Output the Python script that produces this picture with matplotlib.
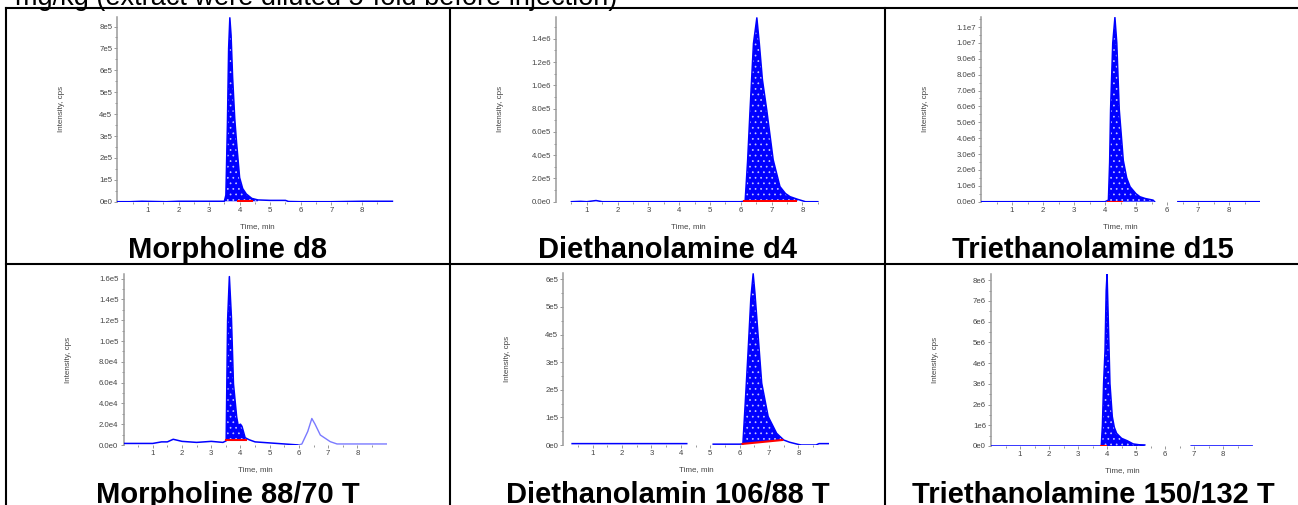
import numpy as np
import matplotlib
matplotlib.use('Agg')
import matplotlib.pyplot as plt
from matplotlib.lines import Line2D

plt.rcParams['font.family'] = ['Liberation Sans', 'DejaVu Sans']
plt.rcParams['hatch.linewidth'] = 0.5

W, H = 1298, 505

# chromatogram traces (time in min, intensity in cps)
t_morph_d8 = [0.0, 0.4, 0.8, 1.2, 1.6, 2.0, 2.5, 3.0, 3.5, 3.55, 3.6, 3.64, 3.68, 3.72, 3.77, 3.84, 3.9, 4.0,
              4.1, 4.22, 4.4, 4.6, 5.0, 5.5, 5.6, 6.0, 7.0, 8.0, 9.0]
y_morph_d8 = [0, 0, 2e3, 1e3, 0, 2e3, 2e3, 2e3, 2e3, 3e4, 3.5e5, 7.0e5, 8.4e5, 7.6e5, 5.7e5, 3.8e5, 2.7e5, 1.1e5,
              6e4, 3.5e4, 1.5e4, 8e3, 6e3, 6e3, 1e3, 0, 0, 2e3, 2e3]

t_dea_d4 = [0.5, 0.8, 1.0, 1.3, 1.5, 2.0, 3.0, 4.0, 5.0, 6.0, 6.14, 6.22, 6.3, 6.41, 6.52, 6.6, 6.7, 6.84, 7.05,
            7.27, 7.45, 7.6, 7.85, 8.0, 8.1, 8.5]
y_dea_d4 = [0, 3e3, 0, 1e4, 0, 0, 0, 0, 0, 0, 5e3, 3.5e5, 7.9e5, 1.36e6, 1.58e6, 1.36e6, 1.05e6, 7.9e5, 3.6e5,
            1.3e5, 7e4, 4.3e4, 2e4, 8e3, 0, 0]

t_tea_d15 = [0.0, 1.0, 2.0, 3.0, 4.0, 4.11, 4.15, 4.18, 4.25, 4.32, 4.38, 4.46, 4.59, 4.7, 4.81, 5.0, 5.13, 5.3,
             5.55, 5.6, 6.0, 6.35, 7.0, 8.0, 9.0]
y_tea_d15 = [0, 0, 0, 0, 0, 1e5, 2.5e6, 5.8e6, 1.0e7, 1.16e7, 1.0e7, 5.8e6, 2.6e6, 1.5e6, 9.4e5, 5e5, 3.1e5, 2e5,
             1e5, 0, np.nan, 0, 0, 0, 0]

t_morph_88 = [0.0, 0.5, 1.0, 1.3, 1.5, 1.7, 2.0, 2.5, 3.0, 3.4, 3.51, 3.56, 3.62, 3.69, 3.76, 3.87, 3.92, 4.0,
              4.05, 4.16, 4.3, 4.5, 5.0, 5.5, 6.0]
y_morph_88 = [1.5e3, 1.5e3, 1.5e3, 3e3, 3e3, 5.5e3, 3.5e3, 2.5e3, 3.5e3, 2.5e3, 4e3, 1.2e5, 1.62e5, 1.23e5, 5.9e4,
              2.7e4, 1.9e4, 2e4, 1.8e4, 7e3, 5e3, 3e3, 2e3, 1e3, 0]
t_morph_88_b = [6.0, 6.1, 6.3, 6.44, 6.55, 6.73, 7.07, 7.3, 8.0, 9.0]
y_morph_88_b = [0, 1e3, 1.3e4, 2.55e4, 2e4, 9.6e3, 3.2e3, 1e3, 1e3, 1e3]

t_dea_106 = [0.3, 1.0, 2.0, 3.0, 3.9, 4.2, 4.6, 5.1, 6.0, 6.11, 6.2, 6.29, 6.38, 6.46, 6.52, 6.58, 6.75, 6.97,
             7.26, 7.5, 7.7, 8.0, 8.1, 8.6, 8.7, 9.05]
y_dea_106 = [5e3, 5e3, 5e3, 5e3, 5e3, 5e3, np.nan, 3e3, 3e3, 4e3, 1.7e5, 3.44e5, 5.3e5, 6.2e5, 5.5e5, 4.65e5,
             2.24e5, 1.03e5, 4.2e4, 1.8e4, 1e4, 2e3, 0, 0, 5e3, 5e3]

t_tea_150 = [0.0, 1.0, 2.0, 3.0, 3.8, 3.84, 3.88, 3.93, 3.97, 4.0, 4.04, 4.1, 4.18, 4.25, 4.33, 4.5, 4.7, 4.9,
             5.1, 5.3, 6.0, 6.9, 8.0, 9.0]
y_tea_150 = [0, 0, 0, 0, 0, 1e6, 3e6, 4.6e6, 7.5e6, 8.3e6, 6.2e6, 3.0e6, 1.42e6, 9e5, 6.1e5, 3.7e5, 2.5e5, 1e5,
             6e4, 5e4, np.nan, 0, 0, 0]

labels = ['Morpholine d8', 'Diethanolamine d4', 'Triethanolamine d15',
          'Morpholine 88/70 T', 'Diethanolamin 106/88 T', 'Triethanolamine 150/132 T']

yticks = [[i * 1e5 for i in range(9)],
          [i * 2e5 for i in range(8)],
          [i * 1e6 for i in range(12)],
          [i * 2e4 for i in range(9)],
          [i * 1e5 for i in range(7)],
          [i * 1e6 for i in range(9)]]
ytick_labels = [['0e0', '1e5', '2e5', '3e5', '4e5', '5e5', '6e5', '7e5', '8e5'],
                ['0.0e0', '2.0e5', '4.0e5', '6.0e5', '8.0e5', '1.0e6', '1.2e6', '1.4e6'],
                ['0.0e0', '1.0e6', '2.0e6', '3.0e6', '4.0e6', '5.0e6', '6.0e6', '7.0e6', '8.0e6', '9.0e6',
                 '1.0e7', '1.1e7'],
                ['0.0e0', '2.0e4', '4.0e4', '6.0e4', '8.0e4', '1.0e5', '1.2e5', '1.4e5', '1.6e5'],
                ['0e0', '1e5', '2e5', '3e5', '4e5', '5e5', '6e5'],
                ['0e0', '1e6', '2e6', '3e6', '4e6', '5e6', '6e6', '7e6', '8e6']]

# integration window (start, end) and red baseline levels at the ends
fill_range = [(3.5, 4.6), (6.14, 7.85), (4.11, 5.55), (3.51, 4.16), (6.11, 7.5), (3.8, 5.3)]
red_line = [((3.95, 2e3), (4.4, 2e3)), ((6.1, 1e4), (7.8, 1e4)), ((4.1, 0), (4.55, 0)),
            ((3.5, 4.5e3), (4.2, 4.5e3)), ((6.1, 4e3), (7.45, 1.8e4)), ((3.8, 0), (3.95, 0))]

traces = [(t_morph_d8, y_morph_d8), (t_dea_d4, y_dea_d4), (t_tea_d15, y_tea_d15),
          (t_morph_88, y_morph_88), (t_dea_106, y_dea_106), (t_tea_150, y_tea_150)]

# axes boxes in pixels: left, top, right, bottom ; limits
boxes = [(117.4, 16.7, 397, 201.7), (556, 16.7, 820, 201.7), (981, 16.7, 1260, 201.7),
         (123.5, 274, 386.7, 445), (563.3, 272.7, 829.3, 445), (991, 274, 1253.3, 446)]
xmax = [9.15, 8.57, 9.0, 9.0, 9.05, 9.04]
ymax = [8.45e5, 1.59e6, 1.165e7, 1.645e5, 6.24e5, 8.3e6]

fig = plt.figure(figsize=(W / 100, H / 100), dpi=100)

for i in range(6):
    l, t, r, b = boxes[i]
    ax = fig.add_axes([l / W, 1 - b / H, (r - l) / W, (b - t) / H])
    tt = np.array(traces[i][0])
    yy = np.array(traces[i][1])

    (x0, b0), (x1, b1) = red_line[i]
    f0, f1 = fill_range[i]
    m = (tt >= f0) & (tt <= f1)
    base = np.interp(tt[m], [x0, x1], [b0, b1])
    ax.fill_between(tt[m], base, yy[m], facecolor='#0000ff', edgecolor='#c8c8ff', hatch='...',
                    linewidth=0, zorder=2)
    ax.plot(tt, yy, color='#0000ff', lw=1.1, zorder=3)
    if i == 3:
        ax.plot(t_morph_88_b, y_morph_88_b, color='#7a7aff', lw=1.0, zorder=3)
    ax.plot([x0, x1], [b0, b1], color='#ff0000', lw=1.5, zorder=4)

    ax.set_xlim(0, xmax[i])
    ax.set_ylim(0, ymax[i])
    ax.set_xticks(range(1, 9))
    ax.set_xticks(np.arange(0.5, 9, 0.5), minor=True)
    ax.set_yticks(yticks[i])
    ax.set_yticklabels(ytick_labels[i])
    step = yticks[i][1]
    ax.set_yticks(np.arange(step / 2, ymax[i], step), minor=True)

    for s in ['top', 'right', 'bottom']:
        ax.spines[s].set_visible(False)
    ax.spines['left'].set_color('#9a9a9a')
    ax.spines['left'].set_linewidth(1.1)
    ax.tick_params(which='both', direction='out', color='#888888', width=0.6, labelsize=5.6,
                   labelcolor='#444444', pad=1.5)
    ax.tick_params(which='major', length=2.2)
    ax.tick_params(which='minor', length=1.2)
    ax.patch.set_alpha(0)

    ax.set_xlabel('Time, min', fontsize=5.8, color='#444444')
    ax.set_ylabel('Intensity, cps', fontsize=5.8, color='#444444')
    ax.xaxis.set_label_coords(0.5, -21 / (b - t))
    ax.yaxis.set_label_coords(-52 / (r - l), 0.5)

# table labels
centers = [228, 667.5, 1093]
for i in range(6):
    yb = 258 if i < 3 else 503
    fig.text(centers[i % 3] / W, 1 - yb / H, labels[i], fontsize=21, fontweight='bold',
             ha='center', va='baseline')

fig.text(15 / W, 1 - 5 / H, 'mg/kg (extract were diluted 5-fold before injection)', fontsize=19.5,
         ha='left', va='baseline')

# table grid
def hline(y, x0, x1):
    fig.add_artist(Line2D([x0 / W, x1 / W], [1 - y / H, 1 - y / H], color='black', lw=1.5))

def vline(x, y0, y1):
    fig.add_artist(Line2D([x / W, x / W], [1 - y0 / H, 1 - y1 / H], color='black', lw=1.5))

hline(8, 6, 1300)
hline(264, 6, 1300)
vline(6, 8, 506)
vline(450, 8, 506)
vline(885, 8, 506)

fig.savefig('out.png', dpi=100)
